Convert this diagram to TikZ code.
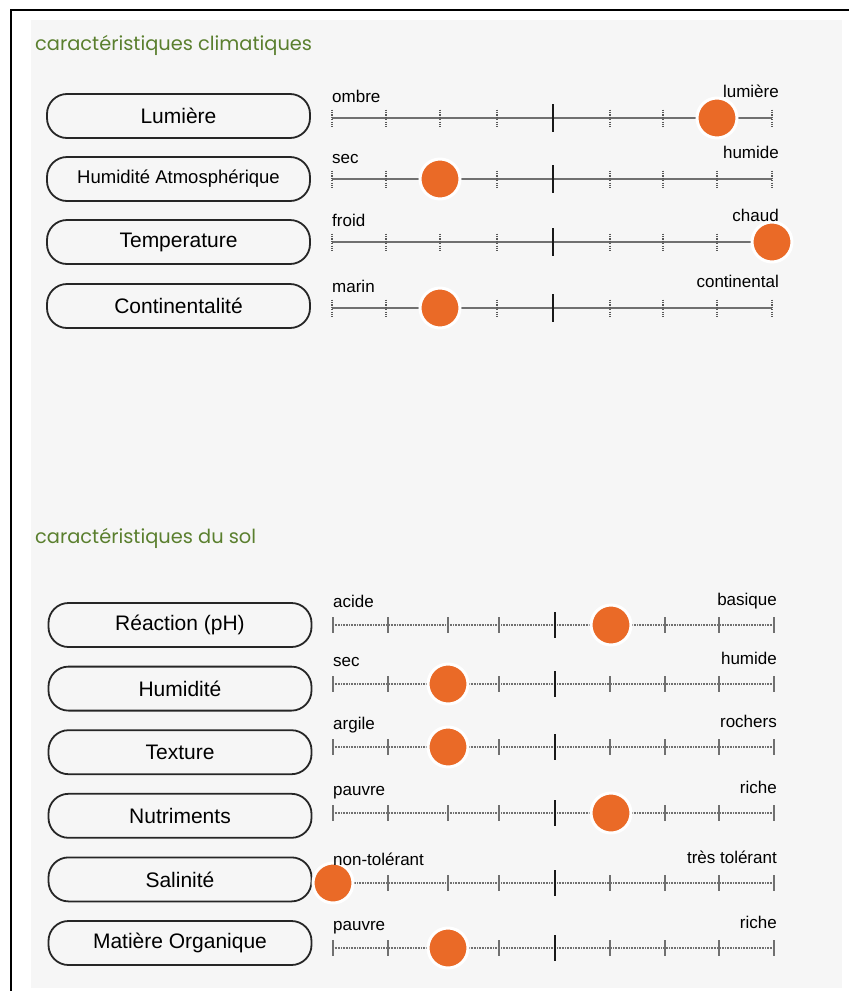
\documentclass[tikz,border=0pt]{standalone}
\usepackage{fontspec}
\setmainfont{Liberation Sans}
\newfontfamily\titlefont{Poppins}
\usetikzlibrary{positioning}
\definecolor{panelgray}{HTML}{F6F6F6}
\definecolor{dotorange}{HTML}{EA6A27}
\definecolor{titlegreen}{HTML}{5A7F2E}
\definecolor{scalegray}{HTML}{707070}
\tikzstyle{critere} = [rectangle, draw=black!85, line width=1.8pt, rounded corners=20pt,
    minimum width=263pt, minimum height=44pt, inner sep=0pt, font=\fontsize{21}{21}\selectfont]
\tikzstyle{titre}    = [font=\titlefont\fontsize{19.4}{19.4}\selectfont, text=titlegreen, anchor=west, inner sep=0pt]
\tikzstyle{pole}     = [font=\fontsize{17}{17}\selectfont, inner sep=0pt]
\tikzstyle{curseur}  = [circle, fill=dotorange, draw=white, line width=3pt, minimum size=40pt, inner sep=0pt]
\tikzstyle{axeclim}  = [draw=scalegray, line width=2pt]
\tikzstyle{axesol}   = [draw=scalegray, line width=2pt, dash pattern=on 1pt off 0.6pt]
\tikzstyle{cranclim} = [draw=black!65, line width=2pt, dash pattern=on 1.2pt off 1.2pt]
\tikzstyle{cransol}  = [draw=scalegray, line width=2pt]
\tikzstyle{milieu}   = [draw=black!90, line width=2.4pt]

\begin{document}
\begin{tikzpicture}[x=1pt,y=1pt]
    \useasboundingbox (0,0) rectangle (849,-991);
    % background
    \fill [white] (0,0) rectangle (849,-991);
    \fill [panelgray] (31,-20) rectangle (842,-988);
    \draw [line width=2pt] (11,-991) -- (11,-10) -- (849,-10);

    % Place nodes
    \node [titre] (titreClim) at (35,-45) {caractéristiques climatiques};
    \node [critere] (lumiere) at (178.5,-116) {Lumière};
    \node [critere, below of=lumiere, node distance=63pt, font=\fontsize{18.5}{18.5}\selectfont] (humAtm) {Humidité Atmosphérique};
    \node [critere, below of=humAtm, node distance=63pt] (temperature) {Temperature};
    \node [critere, below of=temperature, node distance=64pt] (continent) {Continentalité};

    \node [titre] (titreSol) at (35,-538) {caractéristiques du sol};
    \node [critere] (reaction) at (180,-625) {Réaction (pH)};
    \node [critere, below of=reaction, node distance=63.6pt] (humidite) {Humidité};
    \node [critere, below of=humidite, node distance=63.6pt] (texture) {Texture};
    \node [critere, below of=texture, node distance=63.6pt] (nutriments) {Nutriments};
    \node [critere, below of=nutriments, node distance=63.6pt] (salinite) {Salinité};
    \node [critere, below of=salinite, node distance=63.6pt] (matiere) {Matière Organique};

    % climatic scales
    \foreach \y/\cx/\gauche/\droite/\nom in {118/717/ombre/lumière/lum, 179/440/sec/humide/hum,
        242/772/froid/chaud/temp, 308/440/marin/continental/cont}{
        \coordinate (\nom-a) at (332,-\y);
        \coordinate (\nom-b) at (772,-\y);
        \path [axeclim] (\nom-a) -- (\nom-b);
        \foreach \tx in {332,386,440,497,610,663,717,772}
            \path [cranclim] (\tx,-\y+8.5) -- (\tx,-\y-8.5);
        \path [milieu] (553,-\y+14) -- (553,-\y-14);
        \node [curseur] (\nom-c) at (\cx,-\y) {};
        \node [pole, anchor=base west] (\nom-g) at (332,-\y+16) {\gauche};
        \node [pole, anchor=base east] (\nom-d) at (779,-\y+21) {\droite};
    }

    % soil scales
    \foreach \y/\cx/\gauche/\droite/\nom in {625/611/acide/basique/ph, 684/448/sec/humide/hsol,
        747/448/argile/rochers/tex, 813/611/pauvre/riche/nut,
        883/333/non-tolérant/très tolérant/sal, 948/448/pauvre/riche/mo}{
        \coordinate (\nom-a) at (333,-\y);
        \coordinate (\nom-b) at (774,-\y);
        \path [axesol] (\nom-a) -- (\nom-b);
        \foreach \tx in {333,388,448,499,610,665,719,774}
            \path [cransol] (\tx,-\y+8) -- (\tx,-\y-8);
        \path [milieu] (555,-\y+13) -- (555,-\y-13);
        \node [curseur] (\nom-c) at (\cx,-\y) {};
        \node [pole, anchor=base west] (\nom-g) at (333,-\y+18) {\gauche};
        \node [pole, anchor=base east] (\nom-d) at (777,-\y+20) {\droite};
    }
\end{tikzpicture}
\end{document}
